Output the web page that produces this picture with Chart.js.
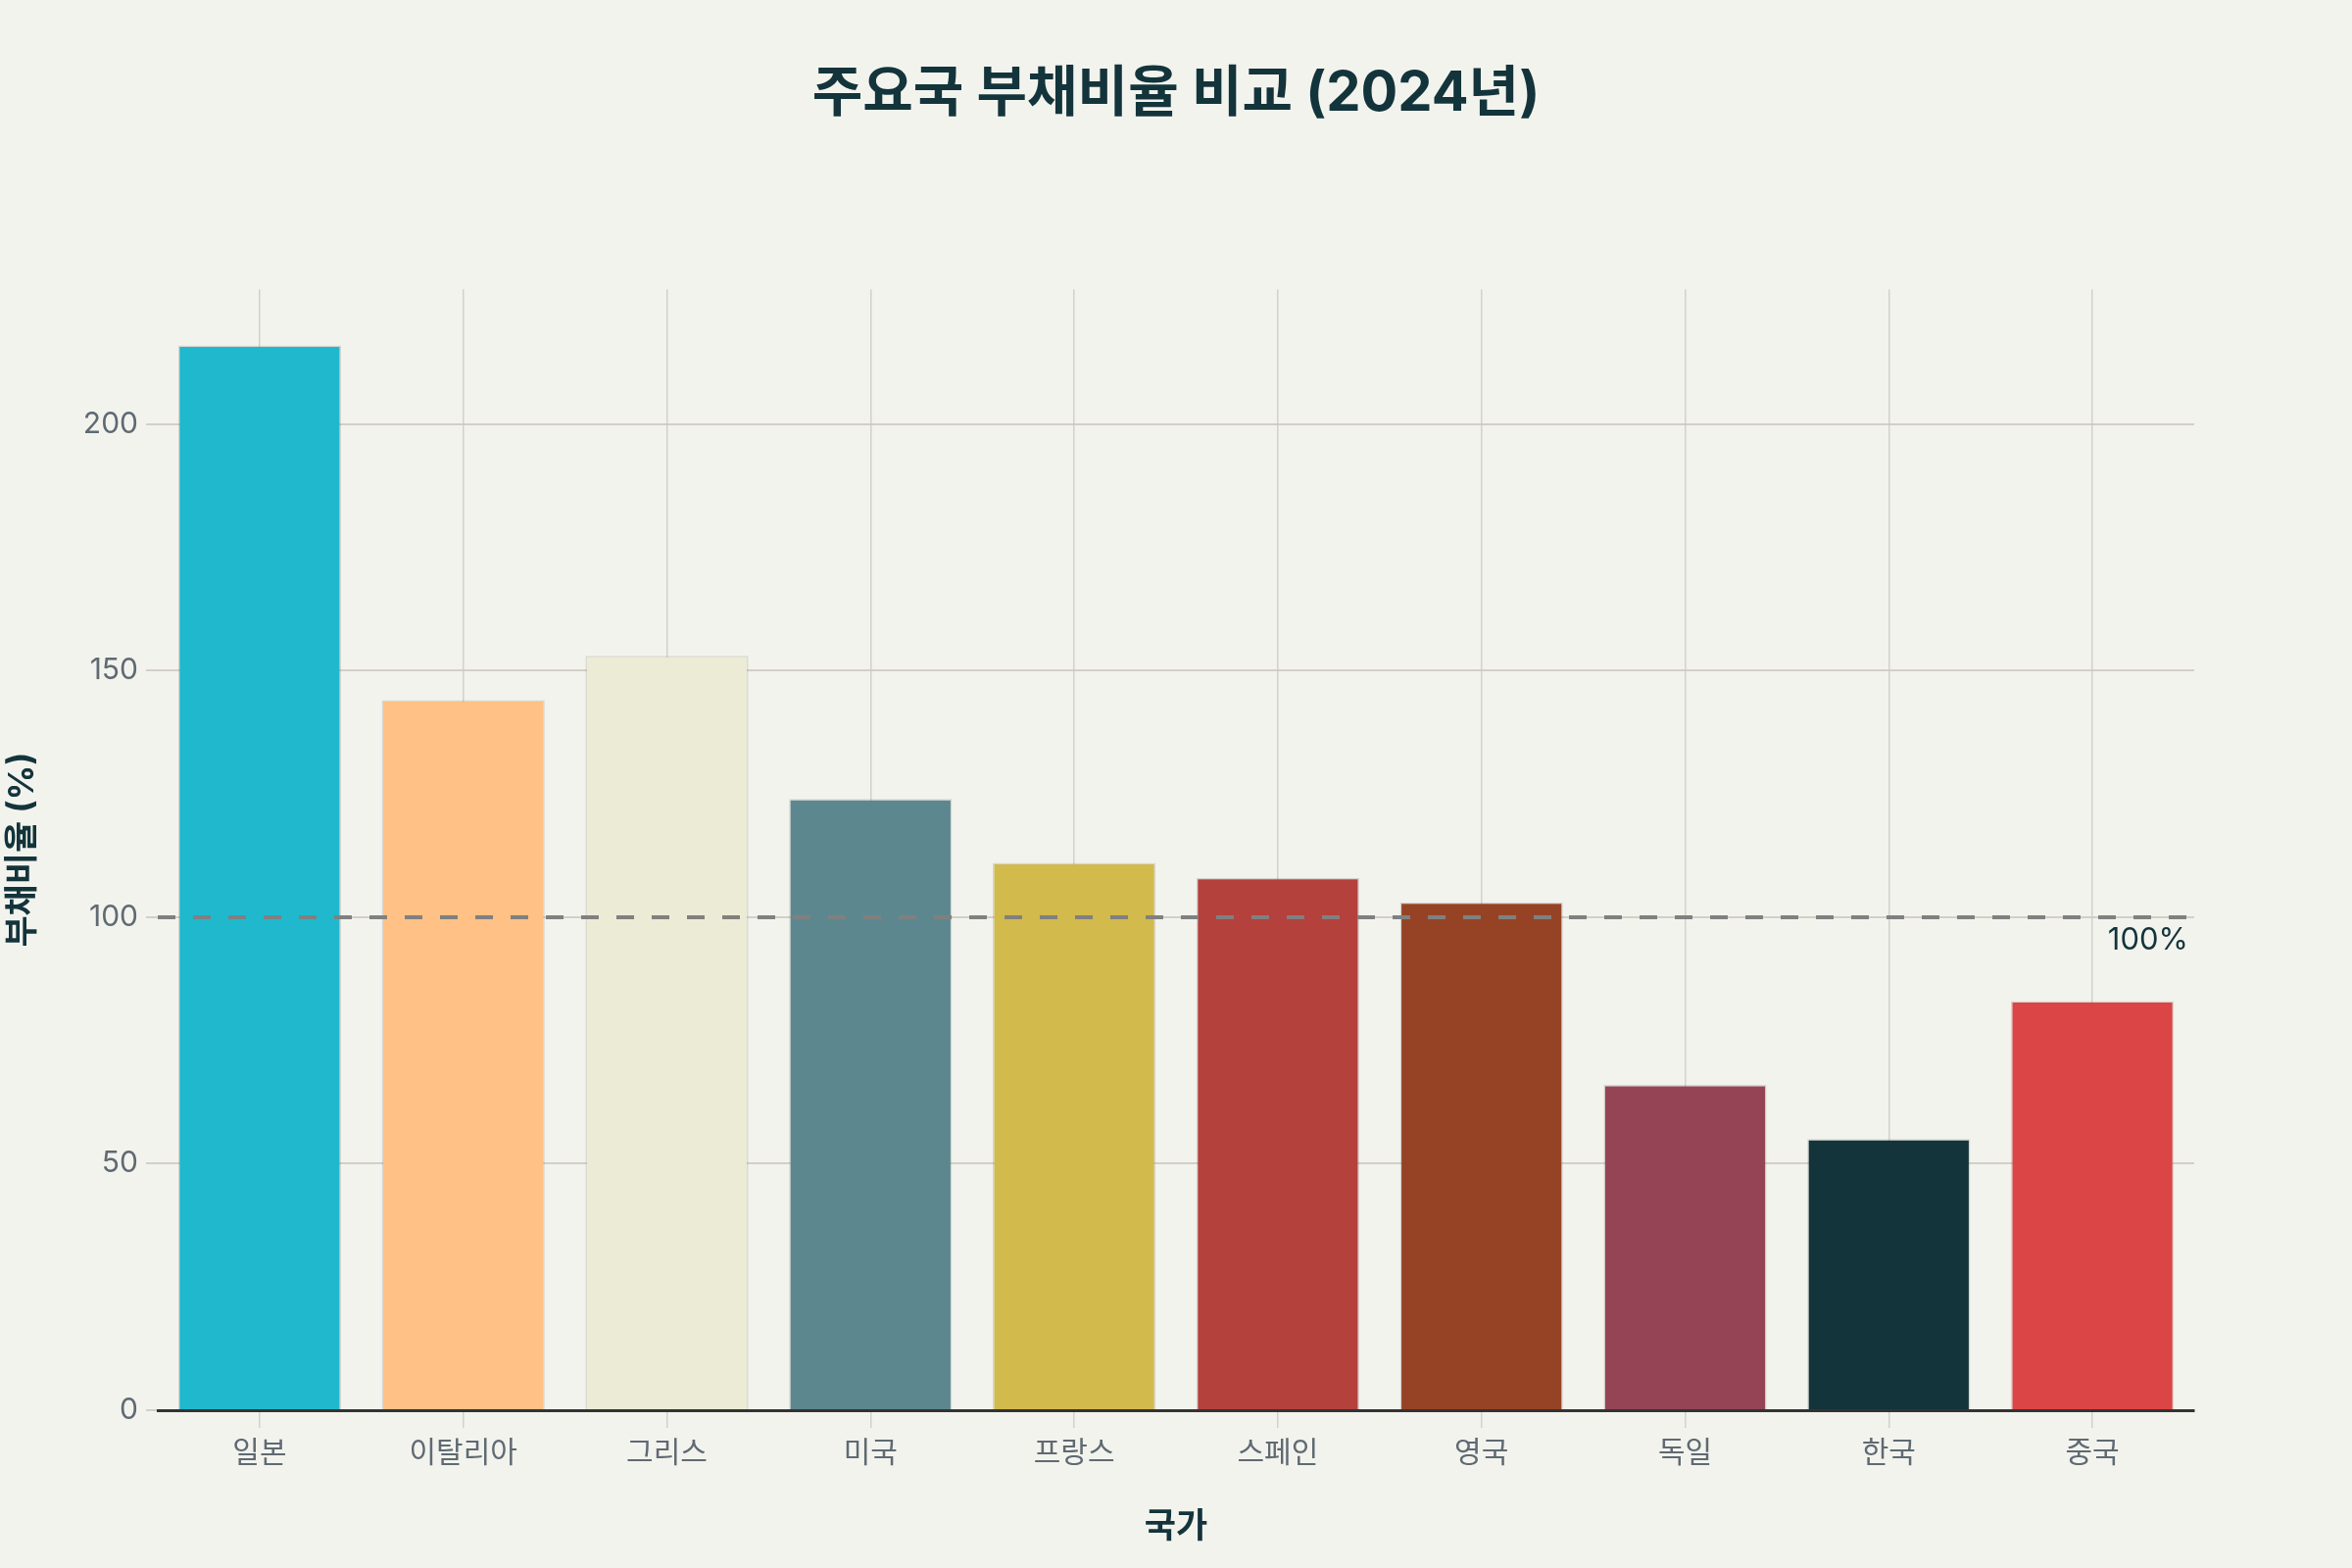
<!DOCTYPE html>
<html lang="ko">
<head>
    <meta charset="UTF-8">
    <title>주요국 부채비율 비교 (2024년)</title>
    <script src="https://cdn.jsdelivr.net/npm/chart.js"></script>
    <style>
        body {
            margin: 0;
            background-color: #f3f3ee;
        }
        #wrap {
            width: 2400px;
            height: 1600px;
        }
    </style>
</head>
<body>
    <div id="wrap">
        <canvas id="debtChart" width="2400" height="1600"></canvas>
    </div>

    <script>
        // Data
        const countries = ['일본', '이탈리아', '그리스', '미국', '프랑스', '스페인', '영국', '독일', '한국', '중국'];
        const debtRatio = [216, 144, 153, 124, 111, 108, 103, 66, 55, 83];
        const barColors = ['#1FB8CD', '#FFC185', '#ECEBD5', '#5D878F', '#D2BA4C', '#B4413C', '#964325', '#944454', '#13343B', '#DB4545'];
        const yTicks = [0, 50, 100, 150, 200];
        const refLine = 100;
        const refLabel = '100%';

        const fontFamily = "Inter, 'Noto Sans CJK KR', sans-serif";
        const darkTeal = '#13343b';
        const tickGray = '#5f6a72';

        // dashed reference line at 100, drawn over the bars
        const refLinePlugin = {
            id: 'refLine',
            afterDatasetsDraw(chart) {
                const ctx = chart.ctx;
                const area = chart.chartArea;
                const y = chart.scales.y.getPixelForValue(refLine);
                ctx.save();
                ctx.strokeStyle = '#808080';
                ctx.lineWidth = 4;
                ctx.setLineDash([18, 18]);
                ctx.beginPath();
                ctx.moveTo(area.left, y);
                ctx.lineTo(area.right - 8, y);
                ctx.stroke();
                ctx.setLineDash([]);
                ctx.fillStyle = darkTeal;
                ctx.font = '31px ' + fontFamily;
                ctx.textAlign = 'right';
                ctx.textBaseline = 'middle';
                ctx.fillText(refLabel, area.right - 6, y + 24);
                ctx.restore();
            }
        };

        window.onload = function() {
            const ctx = document.getElementById('debtChart').getContext('2d');
            new Chart(ctx, {
                type: 'bar',
                data: {
                    labels: countries,
                    datasets: [{
                        label: '부채비율',
                        data: debtRatio,
                        backgroundColor: barColors,
                        borderColor: 'rgba(0, 0, 0, 0.12)',
                        borderWidth: 1.5,
                        barPercentage: 0.8,
                        categoryPercentage: 1.0
                    }]
                },
                options: {
                    responsive: false,
                    animation: false,
                    devicePixelRatio: 1,
                    layout: {
                        padding: { left: 0, right: 0, top: 0, bottom: 0 }
                    },
                    plugins: {
                        legend: { display: false },
                        tooltip: { enabled: false },
                        title: {
                            display: true,
                            text: '주요국 부채비율 비교 (2024년)',
                            color: darkTeal,
                            font: { family: fontFamily, size: 56, weight: 'bold' },
                            padding: { top: 63, bottom: 165 }
                        }
                    },
                    scales: {
                        x: {
                            offset: true,
                            afterFit(scale) { scale.height = 161; },
                            grid: {
                                offset: false,
                                color: 'rgba(170, 170, 160, 0.45)',
                                lineWidth: 1.5,
                                tickLength: 18
                            },
                            border: { display: true, color: '#333333', width: 3 },
                            ticks: {
                                color: tickGray,
                                padding: 8,
                                font: { family: fontFamily, size: 30 }
                            },
                            title: {
                                display: true,
                                text: '국가',
                                color: darkTeal,
                                font: { family: fontFamily, size: 35, weight: 'bold' },
                                padding: { top: 0, bottom: 21 }
                            }
                        },
                        y: {
                            min: 0,
                            // leave ~5% headroom above the tallest bar
                            max: Math.max(...debtRatio) / 0.95,
                            afterFit(scale) { scale.width = 161; },
                            afterBuildTicks(scale) {
                                scale.ticks = yTicks.map(v => ({ value: v }));
                            },
                            grid: {
                                color: 'rgba(205, 200, 192, 0.85)',
                                lineWidth: 2,
                                tickLength: 12
                            },
                            border: { display: false },
                            ticks: {
                                color: tickGray,
                                padding: 8,
                                font: { family: fontFamily, size: 30 }
                            },
                            title: {
                                display: true,
                                text: '부채비율 (%)',
                                color: darkTeal,
                                font: { family: fontFamily, size: 35, weight: 'bold' },
                                padding: { top: 2, bottom: 0 }
                            }
                        },
                        // empty right-hand axis that only reserves the right margin,
                        // so the title stays centred on the whole canvas
                        yRight: {
                            position: 'right',
                            display: true,
                            afterFit(scale) { scale.width = 161; },
                            grid: { display: false, drawOnChartArea: false },
                            border: { display: false },
                            ticks: { display: false }
                        }
                    }
                },
                plugins: [refLinePlugin]
            });
        };
    </script>
</body>
</html>
